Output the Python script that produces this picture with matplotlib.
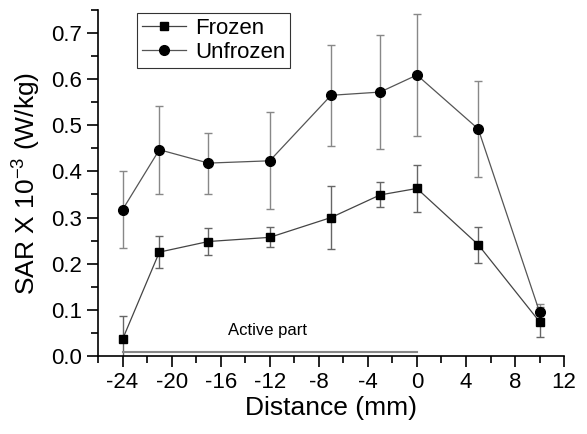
import numpy as np
import matplotlib
matplotlib.use("Agg")
import matplotlib.pyplot as plt
from matplotlib.ticker import MultipleLocator
from matplotlib.lines import Line2D

plt.rcParams['font.family'] = ['Liberation Sans', 'DejaVu Sans']
plt.rcParams['axes.unicode_minus'] = False
plt.rcParams['mathtext.fontset'] = 'custom'
plt.rcParams['mathtext.rm'] = 'Liberation Sans'
plt.rcParams['mathtext.default'] = 'regular'

# Data
distance = [-24, -21, -17, -12, -7, -3, 0, 5, 10]
frozen = [0.036, 0.225, 0.248, 0.257, 0.300, 0.349, 0.363, 0.241, 0.074]
frozen_err = [0.050, 0.034, 0.029, 0.022, 0.068, 0.027, 0.051, 0.039, 0.032]
unfrozen = [0.317, 0.447, 0.418, 0.423, 0.565, 0.572, 0.609, 0.492, 0.095]
unfrozen_err = [0.084, 0.095, 0.066, 0.105, 0.110, 0.123, 0.133, 0.105, 0.018]
active_span = [-24, 0]
active_level = 0.009

fig = plt.figure(figsize=(5.87, 4.34), dpi=100)
ax = fig.add_axes([0.167, 0.18, 0.794, 0.797])

ax.errorbar(distance, frozen, yerr=frozen_err, color='#444444', lw=0.9,
            marker='s', ms=6, mfc='black', mec='black', ecolor='#666666',
            elinewidth=1.0, capsize=3, capthick=1.0)
ax.errorbar(distance, unfrozen, yerr=unfrozen_err, color='#555555', lw=0.9,
            marker='o', ms=7, mfc='black', mec='black', ecolor='#888888',
            elinewidth=1.0, capsize=3, capthick=1.0)

# active part marker line
ax.plot(active_span, [active_level, active_level], color='#888888', lw=1.5)
ax.text(-15.4, 0.054, 'Active part', fontsize=12, va='center', ha='left')

ax.set_xlim(-26, 12)
ax.set_ylim(0, 0.75)
ax.xaxis.set_minor_locator(MultipleLocator(2))
ax.yaxis.set_minor_locator(MultipleLocator(0.05))
ax.set_xticks(np.arange(-24, 13, 4))
ax.set_yticks(np.arange(0, 0.71, 0.1))
ax.set_yticklabels(['%.1f' % v for v in np.arange(0, 0.71, 0.1)])

for side in ['top', 'right']:
    ax.spines[side].set_visible(False)
for side in ['left', 'bottom']:
    ax.spines[side].set_linewidth(1.2)

ax.tick_params(which='major', direction='out', length=8, width=1.2, labelsize=16)
ax.tick_params(which='minor', direction='out', length=5, width=1.2)

ax.set_xlabel('Distance (mm)', fontsize=19, labelpad=2)
ax.set_ylabel('SAR X 10$^{-3}$ (W/kg)', fontsize=19, labelpad=6)

handles = [
    Line2D([], [], color='#444444', lw=0.9, marker='s', ms=6, mfc='black', mec='black'),
    Line2D([], [], color='#555555', lw=0.9, marker='o', ms=7, mfc='black', mec='black'),
]
leg = ax.legend(handles, ['Frozen', 'Unfrozen'], loc='upper left',
                bbox_to_anchor=(0.084, 0.99), fontsize=16,
                frameon=True, fancybox=False, edgecolor='black',
                handlelength=2.0, handletextpad=0.4, borderpad=0.2,
                labelspacing=0.15, borderaxespad=0)
leg.get_frame().set_linewidth(0.8)

fig.savefig('out.png', dpi=100)
